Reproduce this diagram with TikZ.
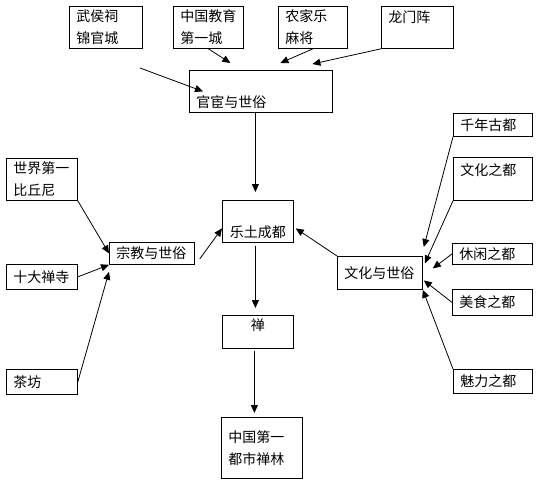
\documentclass[tikz,border=0pt]{standalone}
\usepackage{fontspec}
\newfontfamily\cjk{Noto Sans CJK SC}
\usepackage{tikz}
\usetikzlibrary{arrows.meta, calc}

\begin{document}
\begin{tikzpicture}[
        x=1pt, y=-1pt, % pixel-like coordinates, y grows downwards
        box/.style={rectangle, draw, line width=0.8pt, anchor=north west, inner xsep=7pt, inner ysep=0pt, align=left, font=\cjk\fontsize{14pt}{22pt}\selectfont},
        arrow/.style={-{Triangle[length=8pt, width=7pt]}, line width=0.8pt}
    ]
    \useasboundingbox (0,0) rectangle (538,496);

    % Nodes - top row
    \node[box, text width=59pt, minimum height=42pt] (wuhou_ci) at (69,6) {武侯祠\\锦官城};
    \node[box, text width=56pt, minimum height=42pt] (edu_city) at (173,6) {中国教育\\第一城};
    \node[box, text width=55pt, minimum height=42pt] (farm_mahjong) at (278,6) {农家乐\\麻将};
    \node[box, text width=58pt, minimum height=42pt, text depth=22pt] (dragon_gate) at (381,6) {龙门阵};
    \node[box, text width=129pt, minimum height=42pt, text height=34pt, text depth=2pt] (official_secular) at (189,70) {官宦与世俗};

    % Nodes - centre column
    \node[box, align=center, minimum width=71pt, minimum height=42pt, text height=34pt, text depth=2pt] (pure_land) at (222,200) {乐土成都};
    \node[box, align=center, minimum width=71pt, minimum height=33pt, text depth=15pt] (zen) at (222,315) {禅};
    \node[box, text width=67pt, minimum height=61pt, text depth=23pt] (zen_forest) at (221,417) {中国第一\\都市禅林};

    % Nodes - left column
    \node[box, text width=57pt, minimum height=42pt] (bhikkhuni) at (6,158) {世界第一\\比丘尼};
    \node[box, text width=57pt, minimum height=25pt] (ten_temples) at (6,264) {十大禅寺};
    \node[box, text width=57pt, minimum height=25pt] (teahouse) at (6,369) {茶坊};
    \node[box, text width=71pt, minimum height=22pt] (religion_secular) at (109,242) {宗教与世俗};

    % Nodes - right column
    \node[box, text width=65pt, minimum height=23pt] (ancient_capital) at (453,113) {千年古都};
    \node[box, text width=65pt, minimum height=43pt, text depth=19pt] (culture_capital) at (453,157) {文化之都};
    \node[box, text width=66pt, minimum height=21pt] (leisure_capital) at (452,243) {休闲之都};
    \node[box, text width=66pt, minimum height=26pt] (food_capital) at (452,289) {美食之都};
    \node[box, text width=65pt, minimum height=24pt] (charm_capital) at (453,369) {魅力之都};
    \node[box, text width=71pt, minimum height=33pt] (culture_secular) at (337,256) {文化与世俗};

    \coordinate (loose_end) at (140,68); % arrow without a source box

    % Connections - into official_secular
    \draw[arrow] (loose_end) -- ($(official_secular.west)+(14,0)$);
    \draw[arrow] (edu_city.south) -- ($(official_secular.north)+(-30.5,-7)$);
    \draw[arrow] (farm_mahjong.south) -- ($(official_secular.north)+(19.5,-7)$);
    \draw[arrow] (dragon_gate.south west) -- ($(official_secular.north)+(51.5,-6)$);

    % Connections - centre column
    \draw[arrow, shorten >=8pt] ($(official_secular.south -| pure_land.north)+(-2.5,0)$) -- ($(pure_land.north)+(-2.5,0)$);
    \draw[arrow, shorten <=3pt, shorten >=7pt] ($(pure_land.south)+(-2.5,0)$) -- ($(zen.north)+(-2.5,0)$);
    \draw[arrow, shorten <=2pt, shorten >=4pt] ($(zen.south)+(-3.5,0)$) -- ($(zen.south |- zen_forest.north)+(-3.5,0)$);

    % Connections - left side
    \draw[arrow] (bhikkhuni.south east) -- (religion_secular.west);
    \draw[arrow] (ten_temples.east) -- (religion_secular.south west);
    \draw[arrow] (teahouse.east) -- ($(religion_secular.south west)+(0,7)$);
    \draw[arrow] ($(religion_secular.south east)+(5,-6)$) -- ($(pure_land.west)+(0,7)$);

    % Connections - right side
    \draw[arrow] (culture_secular.north west) -- ($(pure_land.east)+(2,7)$);
    \draw[arrow] (ancient_capital.south west) -- ($(culture_secular.north east)+(1,-9)$);
    \draw[arrow] (culture_capital.south west) -- ($(culture_secular.east)+(2,-9.5)$);
    \draw[arrow] (leisure_capital.west) -- ($(culture_secular.east)+(10,-4.5)$);
    \draw[arrow] (food_capital.west) -- ($(culture_secular.east)+(1,7.5)$);
    \draw[arrow] (charm_capital.north west) -- (culture_secular.south east);

\end{tikzpicture}
\end{document}
